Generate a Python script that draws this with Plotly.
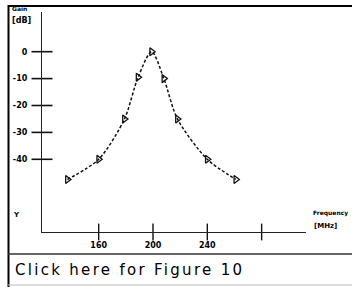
import plotly.graph_objects as go

# Data
freq_mhz = [137, 160, 179, 189, 199, 208, 218, 240, 261]
gain_db = [-47.5, -40, -25, -9.5, 0, -10, -25, -40, -47.5]

y_ticks = [0, -10, -20, -30, -40]
y_ticklabels = ["0", "-10", "-20", "-30", "-40"]
x_ticks = [160, 200, 240, 280]
x_ticklabels = ["160", "200", "240", ""]

W, H = 352, 287
# plot-area pixel box
L, R, T, B = 42, 306, 12, 232
px_per_mhz = 1.358
x_ref_px, x_ref_val = 153, 200
px_per_db = 2.69
y0_px = 51.7

xr = [x_ref_val - (x_ref_px - L) / px_per_mhz, x_ref_val + (R - x_ref_px) / px_per_mhz]
yr = [-(B - y0_px) / px_per_db, (y0_px - T) / px_per_db]

def px(x):
    return x / W

def py(y):
    return 1 - y / H

fig = go.Figure()

# curve
fig.add_trace(go.Scatter(
    x=freq_mhz, y=gain_db, mode="lines+markers",
    line=dict(color="#111", width=1.5, dash="3px,2px", shape="spline", smoothing=0.8),
    marker=dict(symbol="triangle-right-open", size=7, color="#111", line=dict(width=1.3, color="#111")),
    showlegend=False, hoverinfo="skip",
))

# crossing tick marks on y axis
fig.add_trace(go.Scatter(
    x=[xr[0]] * len(y_ticks), y=y_ticks, mode="markers",
    marker=dict(symbol="line-ew", size=15, line=dict(width=1.6, color="#111")),
    cliponaxis=False, showlegend=False, hoverinfo="skip",
))
# crossing tick marks on x axis
fig.add_trace(go.Scatter(
    x=x_ticks, y=[yr[0]] * len(x_ticks), mode="markers",
    marker=dict(symbol="line-ns", size=12, line=dict(width=1.4, color="#111")),
    cliponaxis=False, showlegend=False, hoverinfo="skip",
))

tickfont = dict(family="DejaVu Sans", size=8, color="#000")

fig.update_layout(
    width=W, height=H,
    margin=dict(l=0, r=0, t=0, b=0, autoexpand=False),
    paper_bgcolor="white", plot_bgcolor="white",
    xaxis=dict(
        domain=[px(L), px(R)], range=xr, showgrid=False, zeroline=False,
        showline=True, linecolor="#222", linewidth=1.2, automargin=False,
        tickmode="array", tickvals=x_ticks,
        ticktext=["<b>%s</b>" % t for t in x_ticklabels],
        ticks="outside", ticklen=5, tickcolor="rgba(0,0,0,0)",
        tickfont=tickfont, fixedrange=True,
    ),
    yaxis=dict(
        domain=[py(B), py(T)], range=yr, showgrid=False, zeroline=False,
        showline=True, linecolor="#222", linewidth=1.2, automargin=False,
        tickmode="array", tickvals=y_ticks,
        ticktext=["<b>%s</b>" % t for t in y_ticklabels],
        ticks="outside", ticklen=12, tickcolor="rgba(0,0,0,0)",
        tickfont=tickfont, fixedrange=True,
    ),
    shapes=[
        # left border
        dict(type="line", xref="paper", yref="paper", x0=px(8.5), x1=px(8.5), y0=py(5), y1=0,
             line=dict(color="#000", width=2)),
        # top border
        dict(type="line", xref="paper", yref="paper", x0=px(8), x1=1, y0=py(6), y1=py(6),
             line=dict(color="#000", width=2)),
        # separator above caption
        dict(type="line", xref="paper", yref="paper", x0=px(8), x1=1, y0=py(254), y1=py(254),
             line=dict(color="#333", width=1.5)),
        # bottom light line
        dict(type="line", xref="paper", yref="paper", x0=px(8), x1=1, y0=py(285), y1=py(285),
             line=dict(color="#bbb", width=1)),
    ],
    annotations=[
        dict(text="<b>Gain</b>", x=px(10), y=py(9), xref="paper", yref="paper",
             xanchor="left", yanchor="middle", showarrow=False,
             font=dict(family="DejaVu Sans", size=6, color="#000")),
        dict(text="<b>[dB]</b>", x=px(10), y=py(21), xref="paper", yref="paper",
             xanchor="left", yanchor="middle", showarrow=False,
             font=dict(family="DejaVu Sans", size=8, color="#000")),
        dict(text="<b>Y</b>", x=px(11), y=py(215), xref="paper", yref="paper",
             xanchor="left", yanchor="middle", showarrow=False,
             font=dict(family="DejaVu Sans", size=7, color="#000")),
        dict(text="<b>Frequency</b>", x=px(311), y=py(213), xref="paper", yref="paper",
             xanchor="left", yanchor="middle", showarrow=False,
             font=dict(family="DejaVu Sans", size=6, color="#000")),
        dict(text="<b>[MHz]</b>", x=px(312), y=py(226), xref="paper", yref="paper",
             xanchor="left", yanchor="middle", showarrow=False,
             font=dict(family="DejaVu Sans", size=7, color="#000")),
        dict(text='<span style="letter-spacing:2.3px">Click here for Figure 10</span>',
             x=px(13), y=py(270), xref="paper", yref="paper",
             xanchor="left", yanchor="middle", showarrow=False,
             font=dict(family="DejaVu Sans", size=15, color="#000")),
    ],
)

fig.write_html("out.html", config={"displayModeBar": False},
               post_script="document.body.style.margin='0';")
